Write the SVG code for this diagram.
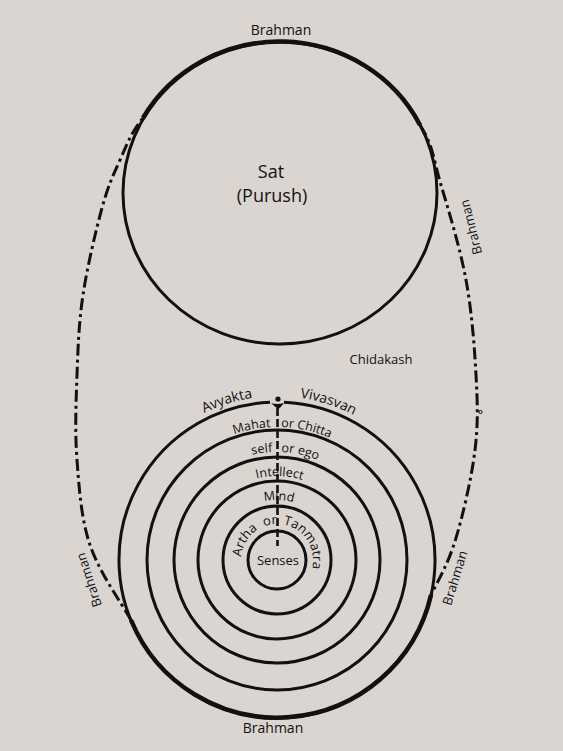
<svg xmlns="http://www.w3.org/2000/svg" width="563" height="751" viewBox="0 0 563 751">
<style>
.ln{fill:none;stroke:#111;stroke-width:3}
.mg{fill:none;stroke:#111;stroke-width:4.5}
.dd{fill:none;stroke:#111;stroke-width:3;stroke-dasharray:12 4 3 4}
.t{font-family:"Open Sans","Noto Sans",sans-serif;fill:#111;font-size:13px}
.m{text-anchor:middle}
.big{font-size:18px}
.s14{font-size:14px}
.s12{font-size:12.5px}
</style>
<defs>
<path id="pA" d="M113,560 A164 164 0 0 1 441,560"/>
<path id="pM" d="M144,560 A133 133 0 0 1 410,560"/>
<path id="pS" d="M169,560 A108 108 0 0 1 385,560"/>
<path id="pI" d="M193,560 A84 84 0 0 1 361,560"/>
<path id="pN" d="M217,560 A60 60 0 0 1 337,560"/>
<path id="pT" d="M277,596 A36 36 0 1 1 277,524 A36 36 0 1 1 277,596"/>
</defs>
<rect width="563" height="751" fill="#dbd5d2"/>

<g id="brahman">
<path class="mg" d="M143,118 A157 151 0 0 1 420,125"/>
<path class="mg" d="M431,595 A158 158 0 0 1 131,620"/>
<path class="dd" d="M420,125 C433.2,145.2 433.3,159.2 441,185 C448.7,210.8 460.2,248.3 466,280 C471.8,311.7 474.5,346.7 476,375 C477.5,403.3 478.3,422.8 475,450 C471.7,477.2 463.3,513.8 456,538 C448.7,562.2 442,573 431,595"/>
<path class="dd" d="M131,620 C118.7,598.8 99,571.7 90,545 C81,518.3 79.2,488.3 77,460 C74.8,431.7 76,402.5 77,375 C78,347.5 78.8,322.8 83,295 C87.2,267.2 95.8,230.5 102,208 C108.2,185.5 113.2,175 120,160 C126.8,145 130.2,133.8 143,118"/>
<circle cx="480.5" cy="412" r="1.6" fill="none" stroke="#111" stroke-width="1"/>
<text class="t m s14" x="281" y="35">Brahman</text>
<text class="t m s14" x="273" y="733">Brahman</text>
<text class="t m" transform="translate(471,227) rotate(-104)" y="4.5">Brahman</text>
<text class="t m" transform="translate(455,578) rotate(-73)" y="4.5">Brahman</text>
<text class="t m" transform="translate(89,580) rotate(-108)" y="4.5">Brahman</text>
<text class="t m" x="381" y="364">Chidakash</text>
</g>

<g id="sat">
<ellipse class="ln" cx="280" cy="193" rx="157" ry="151"/>
<text class="t m big" x="271" y="178">Sat</text>
<text class="t m big" x="272" y="202">(Purush)</text>
</g>

<g id="avyakta">
<path class="ln" d="M284,402.2 A158 158 0 1 1 270,402.2"/>
<circle cx="278" cy="399" r="2.6" fill="#111"/>
<path d="M271,403 Q277,405 284,403 Q281,407 278.5,409 Q275,407 271,403 Z" fill="#111"/>
<text class="t m s14"><textPath href="#pA" startOffset="40.3%">Avyakta</textPath></text>
<text class="t m s14"><textPath href="#pA" startOffset="60%">Vivasvan</textPath></text>
</g>

<g id="mahat">
<circle class="ln" cx="277" cy="560" r="130"/>
<text class="t m s12"><textPath href="#pM" startOffset="44%">Mahat</textPath></text>
<text class="t m s12"><textPath href="#pM" startOffset="57%">or Chitta</textPath></text>
</g>

<g id="self">
<circle class="ln" cx="277" cy="560" r="103"/>
<text class="t m s12"><textPath href="#pS" startOffset="45.6%">self</textPath></text>
<text class="t m s12"><textPath href="#pS" startOffset="56.8%">or ego</textPath></text>
</g>

<g id="intellect">
<circle class="ln" cx="277" cy="560" r="79"/>
<text class="t m s12"><textPath href="#pI" startOffset="51%">Intellect</textPath></text>
</g>

<g id="mind">
<circle class="ln" cx="277" cy="560" r="54"/>
<text class="t m s12"><textPath href="#pN" startOffset="51%">Mind</textPath></text>
</g>

<g id="artha">
<text class="t m"><textPath href="#pT" startOffset="33.7%">Artha</textPath></text>
<text class="t m"><textPath href="#pT" startOffset="47.1%">or</textPath></text>
<text class="t m"><textPath href="#pT" startOffset="65.8%">Tanmatra</textPath></text>
</g>

<g id="senses">
<circle class="ln" cx="277" cy="560" r="29"/>
<text class="t m" x="278" y="565">Senses</text>
</g>

<g id="connectors">
<line x1="277.5" y1="408" x2="277.5" y2="546" stroke="#111" stroke-width="2.6" stroke-dasharray="8 3"/>
</g>
</svg>
